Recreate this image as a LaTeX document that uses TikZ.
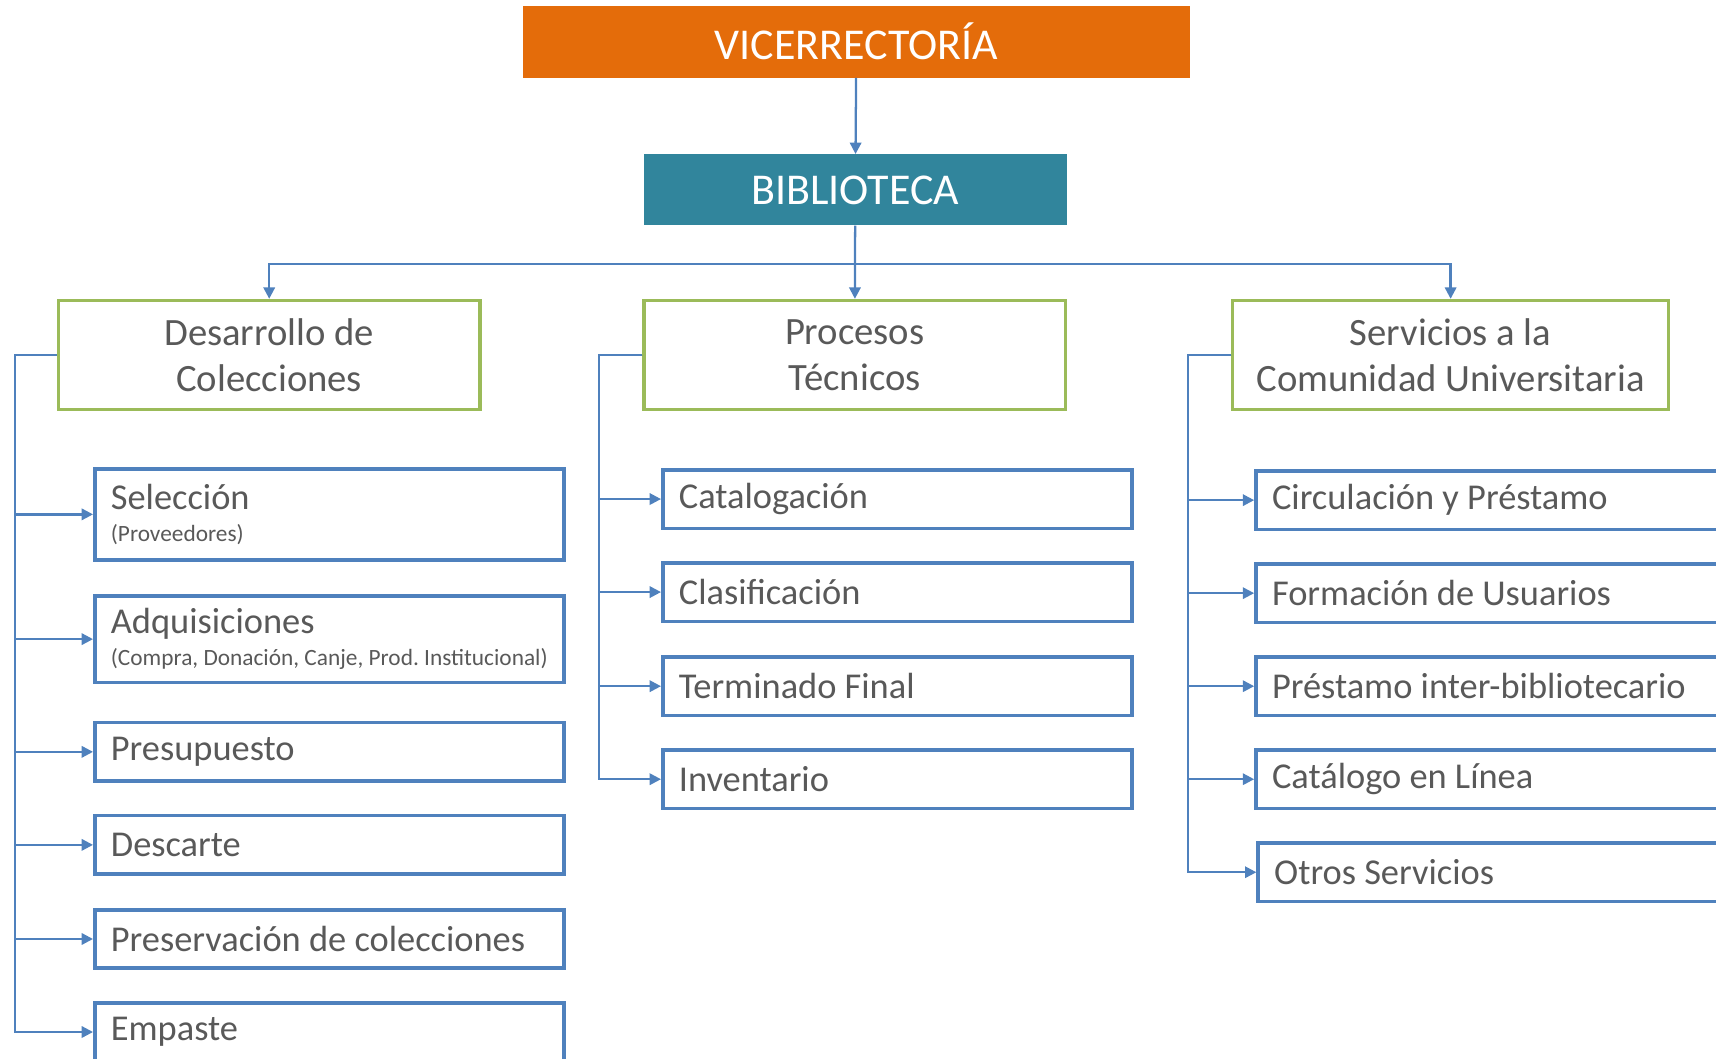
\documentclass[tikz,border=0pt]{standalone}
\usepackage{fontspec}
\setmainfont{Carlito}
\frenchspacing
\usepackage{xcolor}
\usepackage{tikz}
\usetikzlibrary{positioning,calc,arrows.meta}
\definecolor{naranja}{HTML}{E46C0A}
\definecolor{azulverde}{HTML}{31859C}
\definecolor{verde}{HTML}{9BBB59}
\definecolor{azul}{HTML}{4F81BD}
\definecolor{texto}{HTML}{595959}
\pgfkeys{tikz/cabeza/.style={text=white,inner sep=0pt,font=\fontsize{33}{36}\selectfont}}
\pgfkeys{tikz/area/.style={draw=verde,line width=2.5pt,text=texto,align=center,minimum height=82pt,inner sep=0pt,font=\fontsize{29}{34}\selectfont}}
\pgfkeys{tikz/item/.style={draw=azul,line width=2.8pt,text=texto,anchor=west,align=flush left,text width=328pt,minimum height=44pt,inner xsep=12pt,inner ysep=0pt,font=\fontsize{27.3}{34}\selectfont}}
\pgfkeys{tikz/flecha/.style={draw=azul,line width=1.7pt,-{Triangle[length=8.5pt,width=8.5pt]}}}
\newcommand{\nota}[1]{\mbox{\fontsize{17.5}{22}\selectfont #1}}

\begin{document}
\begin{tikzpicture}[x=0.8208pt,y=-0.8208pt]
  \clip (0,0) rectangle (1568,967);
%  \draw[red] (0,0) rectangle (1568,967);
  \node[cabeza,fill=naranja,minimum width=500pt,minimum height=54pt] (vr) at (782.5,38) {VICERRECTORÍA};
  \node[cabeza,fill=azulverde,minimum width=317.6pt,minimum height=53.4pt] (bib) at (781.5,173.5) {BIBLIOTECA};
  \coordinate (bus) at (783,241);

  \node[area,minimum width=316pt] (dc) at (246,324.5) {Desarrollo de\\Colecciones};
  \node[area,minimum width=316pt] (pt) at (781,324.5) {Procesos\\Técnicos};
  \node[area,minimum width=326.7pt] (sc) at (1325.5,324.5) {Servicios a la\\Comunidad Universitaria};

  \draw[flecha] (vr) -- (bib);
  \draw[flecha] (bib) -- (pt);
  \draw[flecha] (bus) -| (dc);
  \draw[flecha] (bus) -| (sc);

  % Desarrollo de Colecciones
  \node[item,minimum height=68.5pt] (dc1) at (85,470) {Selección\\[-10pt]\nota{(Proveedores)}};
  \node[item,minimum height=65pt] (dc2) at (85,584) {Adquisiciones\\[-10pt]\nota{(Compra, Donación, Canje, Prod. Institucional)}};
  \node[item] (dc3) at (85,687) {Presupuesto};
  \node[item] (dc4) at (85,772) {Descarte};
  \node[item] (dc5) at (85,858) {Preservación de colecciones};
  \node[item] (dc6) at (85,943) {Empaste};
  \foreach \i in {1,...,6}
    \draw[flecha] (dc.west) -- ++(-38.5,0) |- (dc\i.west);

  % Procesos Tecnicos
  \node[item] (pt1) at (604,456) {Catalogación};
  \node[item] (pt2) at (604,541) {Clasificación};
  \node[item] (pt3) at (604,627) {Terminado Final};
  \node[item] (pt4) at (604,712) {Inventario};
  \foreach \i in {1,...,4}
    \draw[flecha] (pt.west) -- ++(-39.5,0) |- (pt\i.west);

  % Servicios
  \node[item] (sc1) at (1146,457) {Circulación y Préstamo};
  \node[item] (sc2) at (1146,542) {Formación de Usuarios};
  \node[item] (sc3) at (1146,627) {Préstamo inter-bibliotecario};
  \node[item] (sc4) at (1146,712) {Catálogo en Línea};
  \node[item] (sc5) at (1148,797) {Otros Servicios};
  \foreach \i in {1,...,5}
    \draw[flecha] (sc.west) -- ++(-39.5,0) |- (sc\i.west);
\end{tikzpicture}
\end{document}
